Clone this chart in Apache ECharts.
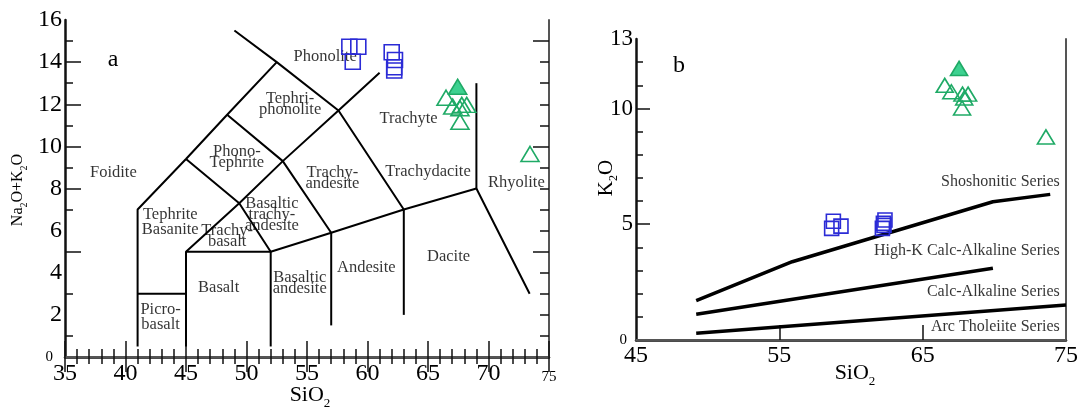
<!DOCTYPE html>
<html>
<head>
<meta charset="utf-8">
<script src="https://cdn.jsdelivr.net/npm/echarts@6/dist/echarts.min.js"></script>
<style>
html,body{margin:0;padding:0;background:#fff;}
#c{width:1085px;height:410px;}
</style>
</head>
<body>
<div id="c"></div>
<script>
// ---------- Panel a: TAS diagram ----------
const tasBoundaries = [
  [[41,0.5],[41,7],[45,9.4],[48.4,11.5],[52.5,14],[49,15.5]],
  [[41,3],[45,3]],
  [[45,0.5],[45,5],[49.4,7.3],[53,9.3],[57.6,11.7],[61,13.5]],
  [[45,5],[52,5],[57,5.9],[63,7],[69,8],[73.4,3]],
  [[52,0.5],[52,5]],
  [[57,1.5],[57,5.9]],
  [[63,2],[63,7]],
  [[69,8],[69,13]],
  [[45,9.4],[49.4,7.3],[52,5]],
  [[48.4,11.5],[53,9.3],[57,5.9]],
  [[52.5,14],[57.6,11.7],[63,7]]
];
const tasFields = [
  ['Foidite',39.0,8.74],
  ['Phonolite',56.5,14.25],
  ['Tephri-\nphonolite',53.6,12.0],
  ['Phono-\nTephrite',49.2,9.47],
  ['Trachyte',63.4,11.3],
  ['Trachy-\nandesite',57.1,8.5],
  ['Trachydacite',65.0,8.78],
  ['Rhyolite',72.3,8.27],
  ['Basaltic\ntrachy-\nandesite',52.1,6.76],
  ['Tephrite\nBasanite',43.7,6.4],
  ['Trachy-\nbasalt',48.4,5.72],
  ['Basalt',47.7,3.28],
  ['Basaltic\nandesite',54.4,3.5],
  ['Andesite',59.9,4.22],
  ['Dacite',66.7,4.75],
  ['Picro-\nbasalt',42.9,1.9]
];
const tasSquares = [[58.5,14.73],[59.24,14.73],[58.78,14.02],[62.0,14.47],[62.27,14.1],[62.21,13.76],[62.21,13.6]];
const tasTriFilled = [[67.45,12.83]];
const tasTriOpen = [[66.49,12.31],[67.04,11.89],[67.79,11.97],[68.2,11.97],[67.64,11.81],[67.64,11.17],[73.43,9.64]];
const tasXLabels = [35,40,45,50,55,60,65,70,75];
const tasYLabels = [0,2,4,6,8,10,12,14,16];

// ---------- Panel b: K2O vs SiO2 ----------
const shoshoniticLine = [[49.2,1.7],[55.9,3.38],[69.9,5.97],[73.9,6.29]];
const highKLine = [[49.2,1.11],[69.9,3.1]];
const calcAlkLine = [[49.2,0.29],[75,1.51]];
const seriesNames = [
  ['Shoshonitic Series',74.6,6.83],
  ['High-K Calc-Alkaline Series',74.6,3.81],
  ['Calc-Alkaline Series',74.6,2.06],
  ['Arc Tholeiite Series',74.6,0.57]
];
const kSquares = [[58.77,5.13],[59.3,4.92],[58.65,4.82],[62.37,5.18],[62.19,4.82],[62.26,5.04],[62.3,4.95]];
const kTriFilled = [[67.54,11.73]];
const kTriOpen = [[66.54,11.0],[67.0,10.72],[67.78,10.62],[68.17,10.62],[67.9,10.45],[67.75,10.02],[73.6,8.77]];
const kXLabels = [45,55,65,75];
const kYLabels = [0,5,10,13];

// ---------- styling ----------
const FONT = 'Liberation Serif';
const BLUE = '#2b2bd6';
const GREEN = '#1faa66';
const GREEN_FILL = '#3dd190';
const INK = '#000';

const chart = echarts.init(document.getElementById('c'), null, {renderer:'canvas'});

const xAxes = [
  // 0: panel a bottom, labels + long ticks
  {type:'value', gridIndex:0, min:35, max:75, interval:5, position:'bottom',
   axisLine:{lineStyle:{color:'#111', width:2.5}}, splitLine:{show:false},
   axisLabel:{customValues:tasXLabels, color:INK, fontFamily:FONT, fontSize:24, margin:5,
     formatter:v => v===75 ? '{s|75}' : String(v),
     rich:{s:{fontSize:15, fontFamily:FONT, color:INK, padding:[8,0,0,0]}}},
   axisTick:{inside:true, length:16, lineStyle:{color:'#111', width:1.5}},
   minorTick:{show:true, splitNumber:5, length:8, lineStyle:{color:'#111', width:1.5}}},
  // 1: panel a top
  {type:'value', gridIndex:0, min:35, max:75, interval:5, position:'top',
   axisLine:{lineStyle:{color:'#555', width:2}}, splitLine:{show:false},
   axisLabel:{show:false},
   axisTick:{inside:true, length:15, lineStyle:{color:'#111', width:1.5}},
   minorTick:{show:true, splitNumber:5, length:7, lineStyle:{color:'#111', width:1.5}}},
  // 2: panel b bottom
  {type:'value', gridIndex:1, min:45, max:75, interval:10, position:'bottom',
   axisLine:{lineStyle:{color:'#111', width:2.5}}, splitLine:{show:false},
   axisLabel:{customValues:kXLabels, color:INK, fontFamily:FONT, fontSize:24, margin:4},
   axisTick:{inside:true, length:15, customValues:[55,65], lineStyle:{color:'#111', width:1.5}}},
  // 3: panel b top
  {type:'value', gridIndex:1, min:45, max:75, position:'top',
   axisLine:{lineStyle:{color:'#555', width:2}}, splitLine:{show:false},
   axisLabel:{show:false}, axisTick:{show:false}}
];

const yAxes = [
  // 0: panel a left labels + long ticks
  {type:'value', gridIndex:0, min:0, max:16, interval:2, position:'left',
   axisLine:{lineStyle:{color:'#111', width:2.5}}, splitLine:{show:false},
   axisLabel:{customValues:tasYLabels, color:INK, fontFamily:FONT, fontSize:24, margin:3,
     formatter:v => v===0 ? '{s|0}' : String(v),
     rich:{s:{fontSize:15, fontFamily:FONT, color:INK, padding:[0,9,0,0]}}},
   axisTick:{inside:true, length:16, customValues:[5,8,10,12,14], lineStyle:{color:'#111', width:1.5}}},
  // 1: panel a left short ticks
  {type:'value', gridIndex:0, min:0, max:16, position:'left',
   axisLine:{show:false}, splitLine:{show:false}, axisLabel:{show:false},
   axisTick:{inside:true, length:8, customValues:[1,3,7,9,11,13,15], lineStyle:{color:'#111', width:1.5}}},
  // 2: panel a right long ticks
  {type:'value', gridIndex:0, min:0, max:16, position:'right',
   axisLine:{lineStyle:{color:'#555', width:2}}, splitLine:{show:false}, axisLabel:{show:false},
   axisTick:{inside:true, length:16, customValues:[5,10,15], lineStyle:{color:'#111', width:1.5}}},
  // 3: panel a right short ticks
  {type:'value', gridIndex:0, min:0, max:16, position:'right',
   axisLine:{show:false}, splitLine:{show:false}, axisLabel:{show:false},
   axisTick:{inside:true, length:9, customValues:[1,2,3,4,6,7,8,9,11,12,13,14], lineStyle:{color:'#111', width:1.5}}},
  // 4: panel b left labels + long ticks
  {type:'value', gridIndex:1, min:0, max:13, position:'left',
   axisLine:{lineStyle:{color:'#111', width:2.5}}, splitLine:{show:false},
   axisLabel:{customValues:kYLabels, color:INK, fontFamily:FONT, fontSize:23, margin:3,
     formatter:v => v===0 ? '{s|0}' : String(v),
     rich:{s:{fontSize:15, fontFamily:FONT, color:INK, padding:[0,6,0,0]}}},
   axisTick:{inside:true, length:14, customValues:[5,10], lineStyle:{color:'#111', width:1.5}}},
  // 5: panel b left short ticks
  {type:'value', gridIndex:1, min:0, max:13, position:'left',
   axisLine:{show:false}, splitLine:{show:false}, axisLabel:{show:false},
   axisTick:{inside:true, length:7, customValues:[1,2,3,4,6,7,8,9,11,12], lineStyle:{color:'#111', width:1.5}}},
  // 6: panel b right frame
  {type:'value', gridIndex:1, min:0, max:13, position:'right',
   axisLine:{lineStyle:{color:'#555', width:2}}, splitLine:{show:false}, axisLabel:{show:false}, axisTick:{show:false}}
];

const series = [];
tasBoundaries.forEach(pts => {
  series.push({type:'line', xAxisIndex:0, yAxisIndex:0, data:pts, symbol:'none', silent:true,
    lineStyle:{color:'#000', width:2}, z:2, animation:false});
});
[shoshoniticLine, highKLine, calcAlkLine].forEach(pts => {
  series.push({type:'line', xAxisIndex:2, yAxisIndex:4, data:pts, symbol:'none', silent:true,
    lineStyle:{color:'#000', width:3.5}, z:2, animation:false});
});

const tightLH = 11;
const looseFields = new Set(['Tephrite\nBasanite','Picro-\nbasalt']);
series.push({type:'scatter', xAxisIndex:0, yAxisIndex:0, symbolSize:1, silent:true, animation:false,
  itemStyle:{color:'rgba(0,0,0,0)'}, z:3,
  data: tasFields.map(f => ({value:[f[1], f[2]], name:f[0],
    label:{lineHeight: looseFields.has(f[0]) ? 15 : tightLH}})),
  label:{show:true, position:'inside', formatter:p => p.name, color:INK,
    fontFamily:FONT, fontSize:16.5, lineHeight:tightLH}});

series.push({type:'scatter', xAxisIndex:2, yAxisIndex:4, symbolSize:1, silent:true, animation:false,
  itemStyle:{color:'rgba(0,0,0,0)'}, z:3,
  data: seriesNames.map(f => ({value:[f[1], f[2]], name:f[0]})),
  label:{show:true, position:[0,0], align:'right', verticalAlign:'middle', formatter:p => p.name, color:INK,
    fontFamily:FONT, fontSize:16}});

function pts(xi, yi, data, symbol, size, fill, border){
  return {type:'scatter', xAxisIndex:xi, yAxisIndex:yi, data:data, symbol:symbol, symbolSize:size,
    animation:false, z:5, itemStyle:{color:fill, borderColor:border, borderWidth:1.6, opacity:1}};
}
series.push(pts(0,0,tasSquares,'rect',15,'rgba(0,0,0,0)',BLUE));
series.push(pts(0,0,tasTriOpen,'triangle',[18,15],'rgba(0,0,0,0)',GREEN));
series.push(pts(0,0,tasTriFilled,'triangle',[18,15],GREEN_FILL,GREEN));
series.push(pts(2,4,kSquares,'rect',14,'rgba(0,0,0,0)',BLUE));
series.push(pts(2,4,kTriOpen,'triangle',[17,14],'rgba(0,0,0,0)',GREEN));
series.push(pts(2,4,kTriFilled,'triangle',[17,14],GREEN_FILL,GREEN));

const subRich = {
  n:{fontFamily:FONT, fontSize:22, color:INK, lineHeight:30},
  s:{fontFamily:FONT, fontSize:13, color:INK, lineHeight:14, verticalAlign:'bottom'}
};
const subRichSmall = {
  n:{fontFamily:FONT, fontSize:16, color:INK, lineHeight:22},
  s:{fontFamily:FONT, fontSize:10, color:INK, lineHeight:10, verticalAlign:'bottom'}
};

chart.setOption({
  animation:false,
  backgroundColor:'#fff',
  grid:[
    {left:65, top:20, width:484, height:337},
    {left:636, top:39, width:430, height:301}
  ],
  xAxis:xAxes,
  yAxis:yAxes,
  series:series,
  graphic:[
    {type:'text', x:113, y:60, style:{text:'a', font:'24px "Liberation Serif"', fill:INK, align:'center', verticalAlign:'middle'}},
    {type:'text', x:679, y:66, style:{text:'b', font:'24px "Liberation Serif"', fill:INK, align:'center', verticalAlign:'middle'}},
    {type:'text', x:310, y:395, style:{text:'{n|SiO}{s|2}', rich:subRich, align:'center', verticalAlign:'middle'}},
    {type:'text', x:855, y:373, style:{text:'{n|SiO}{s|2}', rich:subRich, align:'center', verticalAlign:'middle'}},
    {type:'text', x:18, y:190, rotation:Math.PI/2,
      style:{text:'{n|Na}{s|2}{n|O+K}{s|2}{n|O}', rich:subRichSmall, align:'center', verticalAlign:'middle'}},
    {type:'text', x:606, y:178, rotation:Math.PI/2,
      style:{text:'{n|K}{s|2}{n|O}', rich:{
        n:{fontFamily:FONT, fontSize:21, color:INK, lineHeight:28},
        s:{fontFamily:FONT, fontSize:12, color:INK, lineHeight:12, verticalAlign:'bottom'}}, align:'center', verticalAlign:'middle'}}
  ]
});
</script>
</body>
</html>
